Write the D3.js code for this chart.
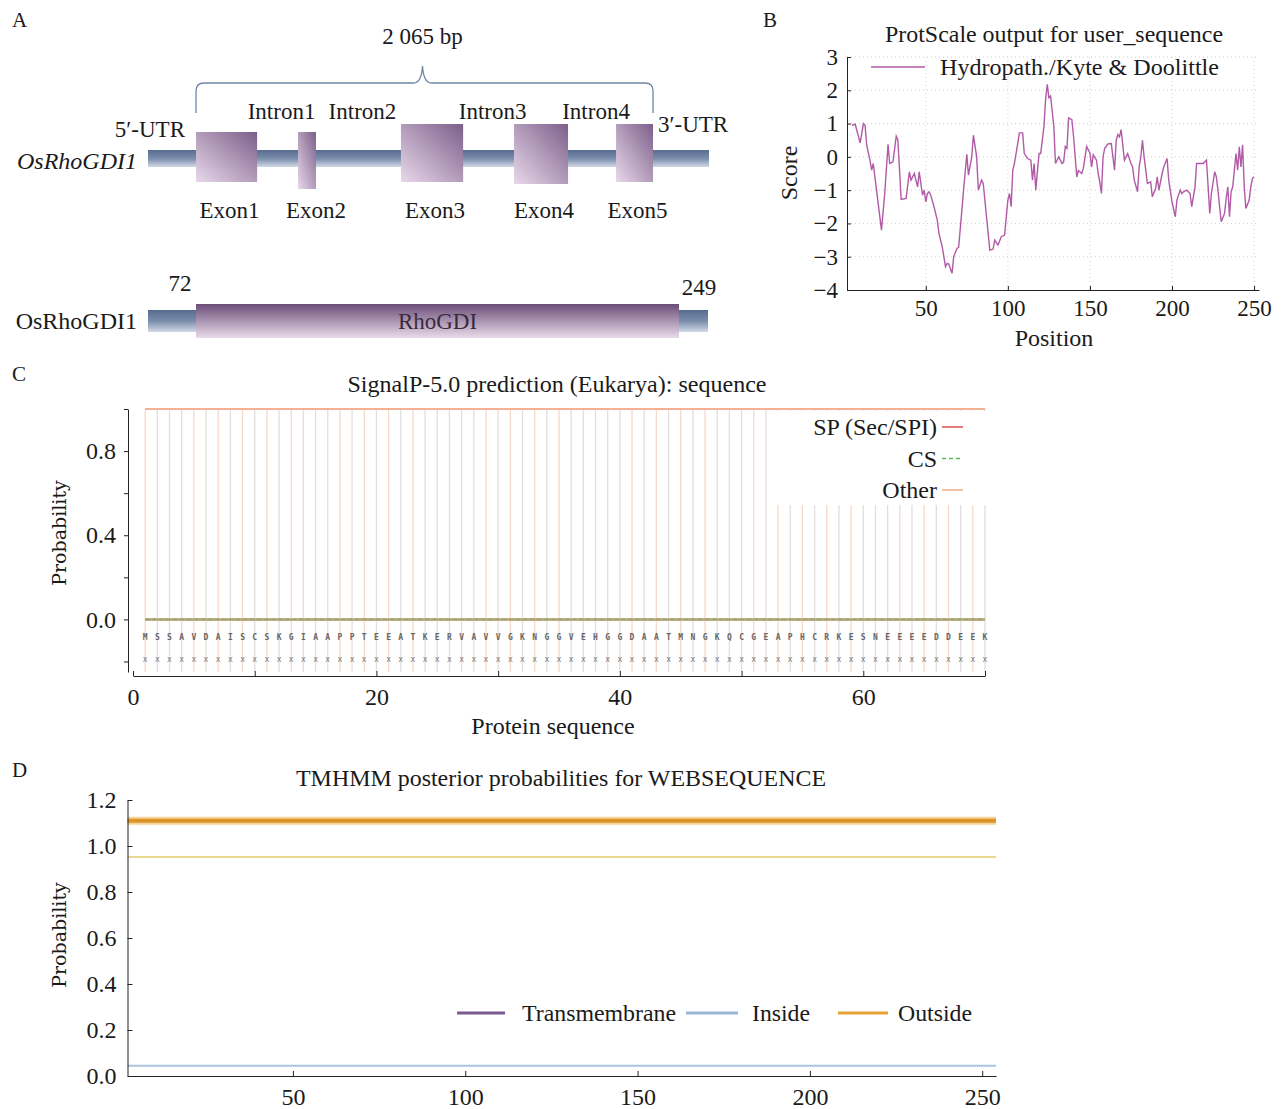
<!DOCTYPE html>
<html><head><meta charset="utf-8">
<script src="https://cdn.jsdelivr.net/npm/d3@7"></script>
<style>
body{margin:0;background:#fff}
svg{display:block}
text{font-family:"Liberation Serif","Times New Roman",serif;fill:#1a1a1a}
</style>
</head><body>
<script>
// ---------------- DATA ----------------
// Panel A: gene structure (bp, relative to exon1 start)
const geneLengthBp = 2065;
const utr5Bp = 217;
const utr3Bp = 253;
const exonNames = ["Exon1", "Exon2", "Exon3", "Exon4", "Exon5"];
const exonStartBp = [0, 461, 926, 1437, 1898];
const exonEndBp = [276, 542, 1207, 1681, 2065];
const intronNames = ["Intron1", "Intron2", "Intron3", "Intron4"];
// Panel A: protein
const proteinLength = 254;
const domainName = "RhoGDI";
const domainStart = 72;
const domainEnd = 249;
// Panel B: Kyte & Doolittle hydropathy
const hydroPos = [5,7,10,12,13,14,16,17,18,19,23,25,27,28,30,32,33,35,38,40,41,43,44,45,46,48,49,50,51,52,53,55,57,58,60,62,63,64,66,67,69,70,72,73,75,76,78,79,81,82,84,85,87,89,91,92,94,96,98,100,101,102,103,104,106,107,109,110,112,114,115,116,117,119,120,122,123,124,125,126,128,129,131,133,134,135,136,137,139,140,142,143,145,146,148,150,151,152,154,155,156,157,158,159,161,163,165,166,167,168,169,171,172,173,175,176,177,179,180,181,182,183,185,187,188,190,191,192,194,195,197,198,200,202,203,205,206,207,209,211,212,214,215,217,219,221,222,223,224,226,227,228,229,230,232,233,234,235,236,237,239,240,241,242,243,244,245,247,248,249,250];
const hydroScore = [0.95,0.98,0.42,1.0,0.95,0.35,-0.1,-0.4,-0.2,-0.6,-2.2,-1.1,0.38,-0.2,-0.15,0.62,0.5,-1.28,-1.25,-0.45,-0.7,-0.5,-0.7,-0.9,-0.45,-1.15,-1.0,-1.35,-1.1,-1.05,-1.15,-1.5,-1.9,-2.3,-2.7,-3.3,-3.2,-3.22,-3.5,-3.0,-2.75,-2.72,-1.6,-1.0,0.08,-0.55,0.0,0.65,0.0,-1.0,-0.7,-0.8,-1.8,-2.8,-2.77,-2.5,-2.65,-2.4,-2.35,-1.3,-1.1,-1.5,-0.4,-0.2,0.4,0.72,0.72,0.1,-0.05,-0.1,-0.7,-0.2,-1.0,0.1,0.1,0.92,1.73,2.18,1.78,1.83,0.92,-0.2,0.0,-0.2,-0.15,0.31,0.25,1.17,1.12,0.62,-0.6,-0.41,-0.5,-0.34,0.31,0.11,-0.3,0.06,-0.1,-0.5,-0.75,-1.1,0.0,0.26,0.39,0.4,-0.4,0.5,0.67,0.6,0.82,-0.1,0.0,0.1,-0.2,-0.3,-0.7,-1.05,-0.3,0.0,0.5,0.0,-0.8,-0.75,-1.2,-0.95,-0.6,-1.0,-0.5,-0.3,-0.05,-0.7,-1.35,-1.8,-1.3,-1.0,-1.1,-1.05,-1.0,-1.1,-1.5,-0.9,-0.2,-0.2,-0.2,-0.1,-0.9,-1.7,-1.1,-0.45,-0.6,-1.0,-1.5,-1.95,-1.7,-1.25,-0.9,-1.8,-1.05,-0.9,0.1,-0.4,0.3,-0.3,0.36,-0.9,-1.55,-1.3,-0.9,-0.65,-0.6];
const bTicksX = [50, 100, 150, 200, 250];
const bTicksY = [-4, -3, -2, -1, 0, 1, 2, 3];
// Panel C: SignalP
const seqLetters = "MSSAVDAISCSKGIAAPPTEEATKERVAVVGKNGGVEHGGDAATMNGKQCGEAPHCRKESNEEEEDDEEK".split("");
const signalSeries = ["SP (Sec/SPI)", "CS", "Other"];
const signalValues = [0, 0, 1];
const cTicksX = [0, 20, 40, 60];
const cTicksY = [0, 0.4, 0.8];
// Panel D: TMHMM
const tmSeries = ["Transmembrane", "Inside", "Outside"];
const tmValues = [0, 0.045, 0.952];
const tmTopologyLevel = 1.11;
const dTicksX = [50, 100, 150, 200, 250];
const dTicksY = [0, 0.2, 0.4, 0.6, 0.8, 1.0, 1.2];

// ---------------- DRAWING ----------------
const svg = d3.select("body").append("svg").attr("width", 1283).attr("height", 1109);
const defs = svg.append("defs");
function lg(id, x1, y1, x2, y2, stops) {
  const g = defs.append("linearGradient").attr("id", id)
    .attr("x1", x1).attr("y1", y1).attr("x2", x2).attr("y2", y2);
  stops.forEach(s => g.append("stop").attr("offset", s[0]).attr("stop-color", s[1]));
}
lg("exonG", "0", "1", "1", "0", [[0, "#e8d8ea"], [1, "#7c5f8a"]]);
lg("barG", "0", "0", "0", "1", [[0, "#586c90"], [0.5, "#7a8dab"], [1, "#d2d9e6"]]);
lg("domG", "0", "0", "0", "1", [[0, "#6c4e78"], [1, "#e8dbea"]]);

function txt(g, x, y, s, o = {}) {
  const t = g.append("text").attr("x", x).attr("y", y).text(s)
    .attr("font-size", o.size || 23)
    .attr("text-anchor", o.anchor || "start");
  if (o.italic) t.attr("font-style", "italic");
  if (o.fill) t.style("fill", o.fill);
  if (o.family) t.style("font-family", o.family);
  if (o.width) t.attr("textLength", o.width).attr("lengthAdjust", "spacingAndGlyphs");
  if (o.rotate) t.attr("transform", `rotate(${o.rotate},${x},${y})`);
  return t;
}
function styleAxis(a, size) {
  a.attr("font-family", null);
  a.selectAll("text").attr("font-size", size).style("font-family", "Liberation Serif").style("fill", "#1a1a1a");
  a.selectAll("path,line").attr("stroke", "#222");
}

// ===== Panel A =====
const A = svg.append("g");
txt(A, 12, 27, "A", { size: 21 });
const xg = d3.scaleLinear().domain([-utr5Bp, geneLengthBp + utr3Bp]).range([148, 709]);
const exonBoxY = [[132, 182], [132, 189], [124, 182], [124, 184], [124, 182]];
A.append("rect").attr("x", xg(-utr5Bp)).attr("y", 150).attr("width", xg(geneLengthBp + utr3Bp) - xg(-utr5Bp))
  .attr("height", 17).attr("fill", "url(#barG)");
A.selectAll("rect.exon").data(exonNames).join("rect").attr("class", "exon")
  .attr("x", (d, i) => xg(exonStartBp[i]))
  .attr("width", (d, i) => xg(exonEndBp[i]) - xg(exonStartBp[i]))
  .attr("y", (d, i) => exonBoxY[i][0])
  .attr("height", (d, i) => exonBoxY[i][1] - exonBoxY[i][0])
  .attr("fill", "url(#exonG)");
exonNames.forEach((n, i) => txt(A, xg((exonStartBp[i] + exonEndBp[i]) / 2) + (i === 1 ? 9 : 3), 218, n, { anchor: "middle" }));
intronNames.forEach((n, i) => txt(A, xg((exonEndBp[i] + exonStartBp[i + 1]) / 2) + 4, 119, n, { anchor: "middle" }));
// brace
{
  const x0 = xg(0), x1 = xg(geneLengthBp), xc = (x0 + x1) / 2 - 2, yb = 83;
  const p = `M${x0},113 L${x0},${yb + 8} Q${x0},${yb} ${x0 + 8},${yb} L${xc - 9},${yb} Q${xc - 1},${yb} ${xc},${yb - 17} Q${xc + 1},${yb} ${xc + 9},${yb} L${x1 - 8},${yb} Q${x1},${yb} ${x1},${yb + 8} L${x1},113`;
  A.append("path").attr("d", p).attr("fill", "none").attr("stroke", "#7085a8").attr("stroke-width", 1.3);
  txt(A, xc, 44, geneLengthBp.toString().replace(/^(\d)(\d{3})$/, "$1 $2") + " bp", { anchor: "middle" });
}
txt(A, 185, 137, "5\u2032-UTR", { anchor: "end" });
txt(A, 658, 132, "3\u2032-UTR");
txt(A, 137, 169, "OsRhoGDI1", { anchor: "end", italic: true, size: 24 });

// protein
const xp = d3.scaleLinear().domain([1, domainStart, domainEnd, proteinLength]).range([148, 196, 679, 708]);
A.append("rect").attr("x", xp(1)).attr("y", 310).attr("width", xp(proteinLength) - xp(1)).attr("height", 22).attr("fill", "url(#barG)");
A.append("rect").attr("x", xp(domainStart)).attr("y", 304).attr("width", xp(domainEnd) - xp(domainStart)).attr("height", 34).attr("fill", "url(#domG)");
txt(A, (xp(domainStart) + xp(domainEnd)) / 2, 329, domainName, { anchor: "middle", fill: "#3a2a3a" });
txt(A, xp(domainStart) - 16, 291, String(domainStart), { anchor: "middle" });
txt(A, xp(domainEnd) + 20, 295, String(domainEnd), { anchor: "middle" });
txt(A, 137, 329, "OsRhoGDI1", { anchor: "end", size: 24 });

// ===== Panel B =====
const B = svg.append("g");
txt(B, 763, 27, "B", { size: 21 });
const xB = d3.scaleLinear().domain([2, 253]).range([847, 1259]);
const yB = d3.scaleLinear().domain([-4, 3]).range([290, 57]);
B.selectAll("line.gx").data(bTicksX).join("line").attr("x1", d => xB(d)).attr("x2", d => xB(d))
  .attr("y1", yB(-4)).attr("y2", yB(3)).attr("stroke", "#d0d0d0").attr("stroke-dasharray", "1,3");
B.selectAll("line.gy").data(bTicksY.slice(1)).join("line").attr("x1", xB(2)).attr("x2", xB(253))
  .attr("y1", d => yB(d)).attr("y2", d => yB(d)).attr("stroke", "#d0d0d0").attr("stroke-dasharray", "1,3");
const axB1 = B.append("g").attr("transform", `translate(${xB(2)},0)`)
  .call(d3.axisLeft(yB).tickValues(bTicksY).tickFormat(d3.format("d")).tickSize(-4).tickSizeOuter(0).tickPadding(9));
const axB2 = B.append("g").attr("transform", `translate(0,${yB(-4)})`)
  .call(d3.axisBottom(xB).tickValues(bTicksX).tickFormat(d3.format("d")).tickSize(-4).tickSizeOuter(0).tickPadding(10));
styleAxis(axB1, 23); styleAxis(axB2, 23);
B.append("path").datum(hydroPos.map((p, i) => [p, hydroScore[i]]))
  .attr("d", d3.line().x(d => xB(d[0])).y(d => yB(d[1])))
  .attr("fill", "none").attr("stroke", "#b25aa6").attr("stroke-width", 1.4);
B.append("line").attr("x1", 871).attr("x2", 925).attr("y1", 67).attr("y2", 67).attr("stroke", "#b25aa6").attr("stroke-width", 1.4);
txt(B, 940, 75, "Hydropath./Kyte & Doolittle", { width: 279 });
txt(B, 1054, 42, "ProtScale output for user_sequence", { anchor: "middle", width: 338 });
txt(B, 1054, 346, "Position", { anchor: "middle", size: 24 });
txt(B, 797, 173, "Score", { anchor: "middle", rotate: -90, size: 24 });

// ===== Panel C =====
const C = svg.append("g");
txt(C, 12, 381, "C", { size: 21 });
const xC = d3.scaleLinear().domain([0, 70]).range([133, 985]);
const yC = d3.scaleLinear().domain([-0.25, 1.0]).range([672, 409]);
const residues = seqLetters.map((l, i) => ({ pos: i + 1, aa: l }));
C.selectAll("line.v").data(residues).join("line")
  .attr("x1", d => xC(d.pos)).attr("x2", d => xC(d.pos))
  .attr("y1", yC(-0.25)).attr("y2", yC(1.0))
  .attr("stroke", d => d.pos % 2 ? "#f5d9ca" : "#e2dedc").attr("stroke-width", 1.3);
// series lines
const sColors = ["#e05a5a", "#5cb85c", "#f4b094"];
const sDash = [null, "4,3", null];
C.append("line").attr("x1", xC(1)).attr("x2", xC(70)).attr("y1", yC(signalValues[2])).attr("y2", yC(signalValues[2]))
  .attr("stroke", sColors[2]).attr("stroke-width", 2);
C.append("line").attr("x1", xC(1)).attr("x2", xC(70)).attr("y1", yC(signalValues[0])).attr("y2", yC(signalValues[0]))
  .attr("stroke", "#b9ae84").attr("stroke-width", 3);
C.append("line").attr("x1", xC(1)).attr("x2", xC(70)).attr("y1", yC(signalValues[1])).attr("y2", yC(signalValues[1]))
  .attr("stroke", "#8f9a62").attr("stroke-width", 1.2).attr("stroke-dasharray", "4,3").attr("opacity", 0.6);
C.selectAll("text.aa").data(residues).join("text").attr("class", "aa")
  .attr("x", d => xC(d.pos)).attr("y", yC(-0.085) + 3).attr("text-anchor", "middle")
  .attr("font-size", 8).style("font-family", "DejaVu Sans Mono").style("font-weight", "bold").style("fill", "#666").text(d => d.aa);
C.selectAll("text.xx").data(residues).join("text").attr("class", "xx")
  .attr("x", d => xC(d.pos)).attr("y", yC(-0.19) + 3).attr("text-anchor", "middle")
  .attr("font-size", 8).style("font-family", "DejaVu Sans Mono").style("fill", "#777").text("x");
// legend box
C.append("rect").attr("x", 768).attr("y", 411).attr("width", 218).attr("height", 94).attr("fill", "#fff");
signalSeries.forEach((s, i) => {
  const yy = 427 + i * 31.5;
  txt(C, 937, yy + 8, s, { anchor: "end", size: 24 });
  C.append("line").attr("x1", 942).attr("x2", 963).attr("y1", yy).attr("y2", yy)
    .attr("stroke", sColors[i]).attr("stroke-width", 1.6).attr("stroke-dasharray", sDash[i]);
});
const axC1 = C.append("g").attr("transform", "translate(128,0)")
  .call(d3.axisLeft(yC).tickValues([-0.2, 0, 0.2, 0.4, 0.6, 0.8, 1.0]).tickFormat(d => cTicksY.some(t => Math.abs(t - d) < 1e-9) ? d3.format(".1f")(d) : "")
    .tickSize(4).tickSizeOuter(0).tickPadding(8));
const axC2 = C.append("g").attr("transform", "translate(0,676)")
  .call(d3.axisBottom(xC).tickValues([0, 10, 20, 30, 40, 50, 60, 70]).tickFormat(d => cTicksX.includes(d) ? d : "")
    .tickSize(-5).tickSizeOuter(0).tickPadding(12));
styleAxis(axC1, 24); styleAxis(axC2, 24);
txt(C, 557, 392, "SignalP-5.0 prediction (Eukarya): sequence", { anchor: "middle", width: 419 });
txt(C, 553, 734, "Protein sequence", { anchor: "middle", size: 24 });
txt(C, 66, 533, "Probability", { anchor: "middle", rotate: -90, family: "DejaVu Serif", size: 19 });

// ===== Panel D =====
const D = svg.append("g");
txt(D, 12, 777, "D", { size: 21 });
const xD = d3.scaleLinear().domain([2, 254]).range([127.5, 996]);
const yD = d3.scaleLinear().domain([0, 1.2]).range([1076, 800]);
const tmColors = ["#7b5a90", "#a9c6de", "#e9d88e"];
// thick topology band
D.append("line").attr("x1", xD(2)).attr("x2", xD(254)).attr("y1", yD(tmTopologyLevel)).attr("y2", yD(tmTopologyLevel))
  .attr("stroke", "#f3d49a").attr("stroke-width", 8);
D.append("line").attr("x1", xD(2)).attr("x2", xD(254)).attr("y1", yD(tmTopologyLevel)).attr("y2", yD(tmTopologyLevel))
  .attr("stroke", "#dc9428").attr("stroke-width", 4);
tmSeries.forEach((s, i) => {
  if (i === 0) return;
  D.append("line").attr("x1", xD(2)).attr("x2", xD(254)).attr("y1", yD(tmValues[i])).attr("y2", yD(tmValues[i]))
    .attr("stroke", tmColors[i]).attr("stroke-width", 2);
});
const axD1 = D.append("g").attr("transform", `translate(${xD(2)},0)`)
  .call(d3.axisLeft(yD).tickValues(dTicksY).tickFormat(d3.format(".1f")).tickSize(-5).tickSizeOuter(0).tickPadding(11));
const axD2 = D.append("g").attr("transform", `translate(0,${yD(0)})`)
  .call(d3.axisBottom(xD).tickValues(dTicksX).tickFormat(d3.format("d")).tickSize(-5).tickSizeOuter(0).tickPadding(12));
styleAxis(axD1, 24); styleAxis(axD2, 24);
// legend
const legD = [{ x1: 457, x2: 505, tx: 522, w: 154, c: "#7b5a90" }, { x1: 686, x2: 738, tx: 752, w: 58, c: "#9ab8d6" }, { x1: 838, x2: 888, tx: 898, w: 74, c: "#e8a234" }];
tmSeries.forEach((s, i) => {
  const L = legD[i];
  D.append("line").attr("x1", L.x1).attr("x2", L.x2).attr("y1", 1013).attr("y2", 1013).attr("stroke", L.c).attr("stroke-width", 3);
  txt(D, L.tx, 1021, s, { width: L.w, size: 24 });
});
txt(D, 561, 786, "TMHMM posterior probabilities for WEBSEQUENCE", { anchor: "middle", width: 530 });
txt(D, 66, 935, "Probability", { anchor: "middle", rotate: -90, family: "DejaVu Serif", size: 19 });
</script>
</body></html>
